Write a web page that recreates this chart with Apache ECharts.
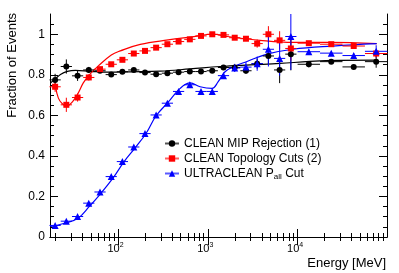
<!DOCTYPE html>
<html>
<head>
<meta charset="utf-8">
<script src="https://cdn.jsdelivr.net/npm/echarts@6/dist/echarts.min.js"></script>
<style>
html,body{margin:0;padding:0;background:#fff;}
#chart{width:399px;height:273px;}
</style>
</head>
<body>
<div id="chart"></div>
<script>
// ---------- data ----------
const binCenters = [19.95, 26.6, 35.5, 47.3, 63.1, 84.1, 112, 150, 200, 266, 355, 473, 631, 841,
  1122, 1496, 1995, 2661, 3548, 4732, 6310, 8414, 13335, 23714, 42170, 74989];
const binHalfWidthDex = [0.0625,0.0625,0.0625,0.0625,0.0625,0.0625,0.0625,0.0625,0.0625,0.0625,0.0625,
  0.0625,0.0625,0.0625,0.0625,0.0625,0.0625,0.0625,0.0625,0.0625,0.0625,0.0625,0.125,0.125,0.125,0.125];

const mipValues = [0.775, 0.841, 0.795, 0.824, 0.820, 0.801, 0.815, 0.824, 0.811, 0.803, 0.808, 0.813, 0.816,
  0.816, 0.820, 0.836, 0.836, 0.820, 0.855, 0.893, 0.824, 0.902, 0.852, 0.865, 0.839, 0.865];
const mipErrors = [0.03, 0.035, 0.025, 0.015, 0.008, 0.008, 0.008, 0.008, 0.008, 0.008, 0.008, 0.008, 0.008,
  0.008, 0.008, 0.01, 0.01, 0.015, 0.025, 0.04, 0.065, 0.08, 0.015, 0.01, 0.01, 0.03];

const topoValues = [0.741, 0.652, 0.688, 0.787, 0.828, 0.852, 0.874, 0.905, 0.918, 0.934, 0.951, 0.964, 0.975,
  0.992, 1.000, 0.997, 0.983, 0.978, 0.954, 1.000, 0.970, 0.930, 0.956, 0.951, 0.942, 0.905];
const topoErrors = [0.025, 0.035, 0.02, 0.015, 0.008, 0.008, 0.008, 0.008, 0.008, 0.008, 0.008, 0.008, 0.008,
  0.008, 0.008, 0.008, 0.01, 0.01, 0.02, 0.04, 0.045, 0.06, 0.01, 0.01, 0.01, 0.02];

const pallValues = [0.057, 0.078, 0.101, 0.167, 0.222, 0.298, 0.372, 0.444, 0.510, 0.602, 0.660, 0.718, 0.751,
  0.718, 0.718, 0.796, 0.834, 0.838, 0.855, 0.926, 0.881, 0.989, 0.914, 0.907, 0.895, 0.916];
const pallErrors = [0.005, 0.005, 0.005, 0.006, 0.006, 0.007, 0.007, 0.007, 0.007, 0.008, 0.008, 0.008, 0.008,
  0.008, 0.008, 0.015, 0.02, 0.025, 0.035, 0.085, 0.085, 0.165, 0.01, 0.01, 0.012, 0.03];

// fit curves
const mipFitE = [17.7, 20.1, 22.9, 27.3, 33.6, 49.2, 82.1, 137, 295, 636, 1370, 2951, 6355, 13700, 29510, 76000];
const mipFitV = [0.760, 0.780, 0.802, 0.817, 0.822, 0.817, 0.813, 0.815, 0.818, 0.829, 0.841, 0.849, 0.856, 0.866, 0.871, 0.872];

const topoFitE = [20.1, 21.7, 24.0, 27.1, 31.1, 36.2, 41.1, 48.0, 60.4, 84.3, 106, 177, 362, 669, 1145, 1638, 3811, 8866, 22870, 76000];
const topoFitV = [0.745, 0.685, 0.657, 0.647, 0.667, 0.711, 0.760, 0.800, 0.844, 0.898, 0.918, 0.950, 0.972, 0.987, 1.000, 0.989, 0.970, 0.960, 0.960, 0.954];

const pallFitE = [17.7, 20.1, 26.0, 36.2, 48.0, 63.5, 88.7, 117, 156, 206, 266, 362, 492, 636, 821, 1116, 1301, 1557, 1909, 2733, 4560, 8866, 24670, 76000];
const pallFitV = [0.052, 0.056, 0.069, 0.094, 0.151, 0.212, 0.293, 0.372, 0.441, 0.512, 0.598, 0.665, 0.733, 0.760, 0.741, 0.733, 0.765, 0.815, 0.839, 0.866, 0.902, 0.926, 0.942, 0.954];

const xMajorTicks = [100, 1000, 10000];
const xMinorTicks = [20,30,40,50,60,70,80,90,200,300,400,500,600,700,800,900,
  2000,3000,4000,5000,6000,7000,8000,9000,20000,30000,40000,50000,60000,70000,80000,90000];
const yMajorTicks = [0, 0.2, 0.4, 0.6, 0.8, 1];
const yMinorTicks = [0.05,0.1,0.15,0.25,0.3,0.35,0.45,0.5,0.55,0.65,0.7,0.75,0.85,0.9,0.95,1.05];

const seriesNames = ['CLEAN MIP Rejection (1)', 'CLEAN Topology Cuts (2)', 'ULTRACLEAN P_all Cut'];

// ---------- chart ----------
const FONT = '"Liberation Sans", Arial, Helvetica, sans-serif';
const chart = echarts.init(document.getElementById('chart'), null, {renderer: 'canvas'});

function points(vals) { return binCenters.map((e, i) => [e, vals[i]]); }
function errData(vals, errs) {
  return binCenters.map((e, i) => [e, vals[i], errs[i],
    e * Math.pow(10, -binHalfWidthDex[i]), e * Math.pow(10, binHalfWidthDex[i])]);
}
function fit(E, V) { return E.map((e, i) => [e, V[i]]); }

function errRenderer(color) {
  return function (params, api) {
    const x = api.value(0), y = api.value(1), e = api.value(2), lo = api.value(3), hi = api.value(4);
    const c = api.coord([x, y]);
    const t = api.coord([x, y + e]);
    const b = api.coord([x, y - e]);
    const l = api.coord([lo, y]);
    const r = api.coord([hi, y]);
    const cs = params.coordSys;
    const top = Math.max(t[1], cs.y);
    const bot = Math.min(b[1], cs.y + cs.height);
    return {
      type: 'group',
      children: [
        {type: 'line', shape: {x1: c[0], y1: top, x2: c[0], y2: bot}, style: {stroke: color, lineWidth: 1}},
        {type: 'line', shape: {x1: l[0], y1: c[1], x2: r[0], y2: c[1]}, style: {stroke: color, lineWidth: 1}}
      ]
    };
  };
}

const xBase = {type: 'log', logBase: 10, min: 17.5, max: 99000, splitLine: {show: false}, gridIndex: 0};
const yBase = {type: 'value', min: 0, max: 1.1, splitLine: {show: false}, gridIndex: 0};
const axisLineStyle = {show: true, lineStyle: {color: '#000', width: 1}};

const option = {
  animation: false,
  backgroundColor: '#fff',
  grid: {left: 50, right: 12, top: 14, bottom: 36, containLabel: false},
  xAxis: [
    Object.assign({}, xBase, {position: 'bottom', axisLine: axisLineStyle,
      axisTick: {inside: true, length: 8, customValues: xMajorTicks, lineStyle: {color: '#000'}},
      axisLabel: {customValues: xMajorTicks, margin: 5, color: '#000', fontFamily: FONT,
        formatter: v => '{b|10}{s|' + Math.round(Math.log10(v)) + '}',
        padding: [0, 5, 0, 0],
        rich: {b: {fontSize: 11, fontFamily: FONT, color: '#000', lineHeight: 13},
               s: {fontSize: 7, fontFamily: FONT, color: '#000', lineHeight: 8, verticalAlign: 'top', padding: [0, 0, 5, 0]}}}}),
    Object.assign({}, xBase, {position: 'bottom', axisLine: {show: false},
      axisTick: {inside: true, length: 4, customValues: xMinorTicks, lineStyle: {color: '#000'}},
      axisLabel: {show: false}}),
    Object.assign({}, xBase, {position: 'top', axisLine: axisLineStyle,
      axisTick: {inside: true, length: 8, customValues: xMajorTicks, lineStyle: {color: '#000'}},
      axisLabel: {show: false}}),
    Object.assign({}, xBase, {position: 'top', axisLine: {show: false},
      axisTick: {inside: true, length: 4, customValues: xMinorTicks, lineStyle: {color: '#000'}},
      axisLabel: {show: false}})
  ],
  yAxis: [
    Object.assign({}, yBase, {position: 'left', axisLine: axisLineStyle,
      axisTick: {inside: true, length: 8, customValues: yMajorTicks, lineStyle: {color: '#000'}},
      axisLabel: {customValues: yMajorTicks, margin: 5, fontSize: 12, color: '#000', fontFamily: FONT,
        formatter: v => String(v)}}),
    Object.assign({}, yBase, {position: 'left', axisLine: {show: false},
      axisTick: {inside: true, length: 4, customValues: yMinorTicks, lineStyle: {color: '#000'}},
      axisLabel: {show: false}}),
    Object.assign({}, yBase, {position: 'right', axisLine: axisLineStyle,
      axisTick: {inside: true, length: 8, customValues: yMajorTicks, lineStyle: {color: '#000'}},
      axisLabel: {show: false}}),
    Object.assign({}, yBase, {position: 'right', axisLine: {show: false},
      axisTick: {inside: true, length: 4, customValues: yMinorTicks, lineStyle: {color: '#000'}},
      axisLabel: {show: false}})
  ],
  legend: {
    orient: 'vertical', left: 164, top: 136, padding: 0, itemGap: 0,
    itemWidth: 14, itemHeight: 8,
    textStyle: {fontSize: 12, fontFamily: FONT, color: '#000', lineHeight: 15,
      rich: {sub: {fontSize: 8, fontFamily: FONT, color: '#000', lineHeight: 10, verticalAlign: 'bottom', padding: [6, 0, 0, 0]}}},
    formatter: name => name.replace('P_all', 'P{sub|all}'),
    data: [
      {name: seriesNames[0], lineStyle: {color: '#555', width: 2, opacity: 1}},
      {name: seriesNames[1], lineStyle: {color: '#ff6060', width: 2, opacity: 1}},
      {name: seriesNames[2], lineStyle: {color: '#5a5aff', width: 2, opacity: 1}}
    ]
  },
  graphic: [
    {type: 'text', x: 12.5, y: 13, rotation: Math.PI / 2,
      style: {text: 'Fraction of Events', font: '13px ' + FONT, fill: '#000', textAlign: 'right', textVerticalAlign: 'middle'}},
    {type: 'text', x: 386, y: 263,
      style: {text: 'Energy [MeV]', font: '13px ' + FONT, fill: '#000', textAlign: 'right', textVerticalAlign: 'middle'}}
  ],
  series: [
    // fits
    {type: 'line', data: fit(mipFitE, mipFitV), smooth: 0.4, showSymbol: false, silent: true, z: 2,
      lineStyle: {color: '#000', width: 1.2}},
    {type: 'line', data: fit(topoFitE, topoFitV), smooth: 0.4, showSymbol: false, silent: true, z: 2,
      lineStyle: {color: '#ff0000', width: 1.2}},
    {type: 'line', data: fit(pallFitE, pallFitV), smooth: 0.4, showSymbol: false, silent: true, z: 2,
      lineStyle: {color: '#0000ff', width: 1.2}},
    // error bars
    {type: 'custom', data: errData(mipValues, mipErrors), renderItem: errRenderer('#000'), encode: {x: 0, y: 1}, z: 3, silent: true},
    {type: 'custom', data: errData(topoValues, topoErrors), renderItem: errRenderer('#ff0000'), encode: {x: 0, y: 1}, z: 3, silent: true},
    {type: 'custom', data: errData(pallValues, pallErrors), renderItem: errRenderer('#0000ff'), encode: {x: 0, y: 1}, z: 3, silent: true},
    // markers
    {name: seriesNames[0], type: 'line', data: points(mipValues), symbol: 'circle', symbolSize: 6, z: 4,
      itemStyle: {color: '#000'}, lineStyle: {opacity: 0}, showAllSymbol: true},
    {name: seriesNames[1], type: 'line', data: points(topoValues), symbol: 'rect', symbolSize: 6, z: 4,
      itemStyle: {color: '#ff0000'}, lineStyle: {opacity: 0}, showAllSymbol: true},
    {name: seriesNames[2], type: 'line', data: points(pallValues), symbol: 'triangle', symbolSize: 7, z: 4,
      itemStyle: {color: '#0000ff'}, lineStyle: {opacity: 0}, showAllSymbol: true}
  ]
};
chart.setOption(option);
</script>
</body>
</html>
